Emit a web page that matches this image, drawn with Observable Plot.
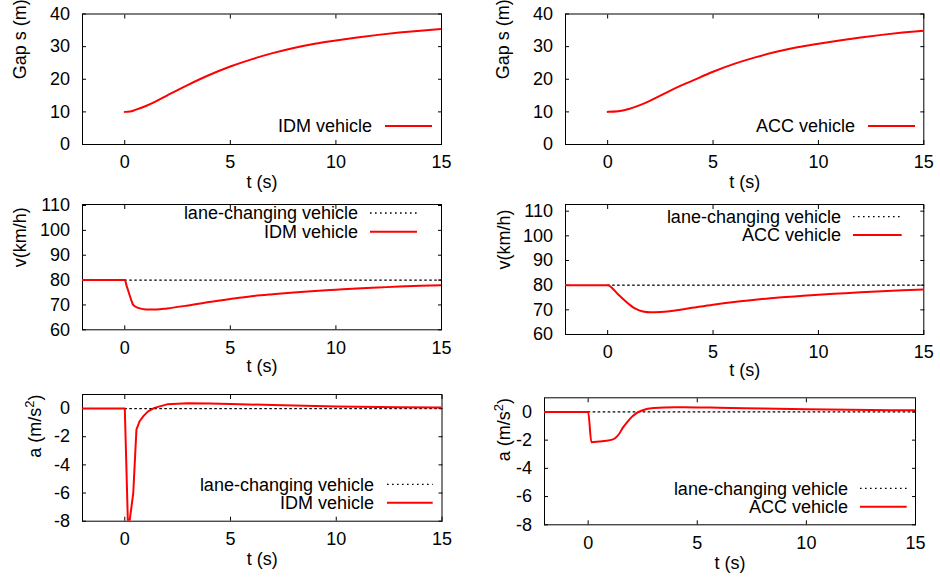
<!DOCTYPE html>
<html>
<head>
<meta charset="utf-8">
<script src="https://cdn.jsdelivr.net/npm/d3@7"></script>
<script src="https://cdn.jsdelivr.net/npm/@observablehq/plot@0.6"></script>
<style>
  html, body { margin: 0; padding: 0; background: #fff; }
  #wrap { position: relative; width: 940px; height: 578px; background: #fff; overflow: hidden;
          font-family: "Liberation Sans", Arial, Helvetica, sans-serif; }
  #wrap svg.panel { position: absolute; }
</style>
</head>
<body>
<div id="wrap"></div>
<script>
// ---------------- data ----------------
const xTicks = [0, 5, 10, 15];
const gapTicks = [0, 10, 20, 30, 40];
const vTicks = [60, 70, 80, 90, 100, 110];
const aTicks = [-8, -6, -4, -2, 0];

const seriesLane = "lane-changing vehicle";
const seriesIDM = "IDM vehicle";
const seriesACC = "ACC vehicle";

// lane-changing vehicle (constant)
const tLane = [0, 15];
const vLane = [80, 80];
const aLane = [0, 0];

// gap s (m)
const tGapIDM = [0, 0.25, 0.5, 1, 1.5, 2, 2.5, 3, 4, 5, 6, 7, 8, 9, 10, 11, 12, 13, 14, 15];
const gapIDM  = [10, 10.1, 10.6, 11.8, 13.3, 15, 16.7, 18.3, 21.3, 23.9, 26.1, 28, 29.6, 30.9, 31.9, 32.8, 33.6, 34.3, 34.9, 35.4];
const tGapACC = [0, 0.5, 1, 1.5, 2, 2.5, 3, 3.5, 4, 5, 6, 7, 8, 9, 10, 11, 12, 13, 14, 15];
const gapACC  = [10, 10.2, 10.9, 12, 13.4, 15, 16.6, 18.1, 19.5, 22.3, 24.7, 26.7, 28.4, 29.8, 30.9, 31.9, 32.8, 33.6, 34.3, 34.9];

// velocity v (km/h)
const tVIDM = [-2, 0, 0.1, 0.2, 0.3, 0.4, 0.6, 1, 1.5, 2, 3, 4, 5, 6, 7, 8, 9, 10, 11, 12, 13, 14, 15];
const vIDM  = [80, 80, 77.4, 74.8, 72.2, 70, 68.9, 68.2, 68.2, 68.6, 69.8, 71.2, 72.4, 73.5, 74.3, 75, 75.6, 76.1, 76.6, 77, 77.4, 77.7, 77.9];
const tVACC = [-2, 0, 0.5, 1, 1.25, 1.5, 1.75, 2, 2.5, 3, 4, 5, 6, 7, 8, 9, 10, 11, 12, 13, 14, 15];
const vACC  = [80, 80, 76.2, 72.4, 70.8, 69.8, 69.2, 69, 69.1, 69.5, 70.8, 72.1, 73.2, 74.1, 74.9, 75.5, 76.1, 76.6, 77.1, 77.5, 77.9, 78.2];

// acceleration a (m/s^2)
const tAIDM = [-2, 0, 0.15, 0.2, 0.4, 0.55, 0.7, 0.9, 1.1, 1.4, 2, 3, 4, 5, 7, 10, 13, 15];
const aIDM  = [0, 0, -8.3, -8.3, -6.0, -1.5, -0.9, -0.5, -0.2, 0.05, 0.3, 0.38, 0.36, 0.32, 0.25, 0.15, 0.1, 0.08];
const tAACC = [-2, 0, 0.15, 0.5, 1, 1.2, 1.4, 1.6, 1.8, 2, 2.2, 2.5, 3, 4, 5, 6, 8, 10, 12, 15];
const aACC  = [0, 0, -2.15, -2.1, -2.0, -1.9, -1.6, -1.1, -0.7, -0.35, -0.1, 0.12, 0.27, 0.33, 0.32, 0.3, 0.24, 0.19, 0.15, 0.11];

const xLabel = "t (s)";
const labelGap = "Gap s (m)";
const labelV = "v(km/h)";
const labelA = "a (m/s²)";

// --------------- helpers ---------------
const zip = (ts, vs) => ts.map((t, i) => ({t, v: vs[i]}));
const FONT = '"Liberation Sans", Arial, Helvetica, sans-serif';
const RED = "#ff0000";
const NS = "http://www.w3.org/2000/svg";

function superscriptFix(svg) {
  svg.querySelectorAll("text").forEach(t => {
    const s = t.textContent;
    if (s.includes("²")) {
      const [pre, post] = s.split("²");
      t.textContent = "";
      const a = document.createElementNS(NS, "tspan"); a.textContent = pre;
      const b = document.createElementNS(NS, "tspan"); b.textContent = "2";
      b.setAttribute("font-size", "13"); b.setAttribute("dy", "-7");
      const c = document.createElementNS(NS, "tspan"); c.textContent = post;
      c.setAttribute("dy", "7");
      t.append(a, b, c);
    }
  });
}

function panel(cfg) {
  const marks = [
    Plot.frame({stroke: "#000", strokeWidth: 1}),
    Plot.axisX(xTicks, {anchor: "bottom", tickSize: -4, tickPadding: 15, tickFormat: d => String(d), label: null, fill: "#000", stroke: "#000"}),
    Plot.axisX(xTicks, {anchor: "top", tickSize: -4, tickFormat: () => "", label: null, stroke: "#000"}),
    Plot.axisY(cfg.yTicks, {anchor: "left", tickSize: -4, tickPadding: 16.5, tickFormat: d => String(d), label: null, fill: "#000", stroke: "#000"}),
    Plot.axisY(cfg.yTicks, {anchor: "right", tickSize: -4, tickFormat: () => "", label: null, stroke: "#000"})
  ];
  if (cfg.lane) {
    marks.push(Plot.line(cfg.lane, {x: "t", y: "v", stroke: "#000", strokeWidth: 1.3, strokeDasharray: "1.6,3.4", clip: true}));
  }
  marks.push(Plot.line(cfg.data, {x: "t", y: "v", stroke: RED, strokeWidth: 2, curve: cfg.curve || "linear", clip: true}));
  marks.push(Plot.text([xLabel], {text: d => d, frameAnchor: "bottom", dy: cfg.xLabelDy, lineAnchor: "middle", fill: "#000", fontSize: 18}));
  marks.push(Plot.text([cfg.yLabel], {text: d => d, frameAnchor: "left", rotate: -90, dx: cfg.yLabelDx, lineAnchor: "middle", fill: "#000", fontSize: 18}));
  const svg = Plot.plot({
    width: cfg.w, height: cfg.h,
    marginLeft: cfg.ml, marginRight: cfg.mr, marginTop: cfg.mt, marginBottom: cfg.mb,
    x: {domain: [-2, 15]},
    y: {domain: cfg.yDomain},
    style: {fontFamily: FONT, fontSize: "18px", color: "#000", background: "transparent", overflow: "visible"},
    marks
  });
  superscriptFix(svg);
  svg.classList.add("panel");
  svg.style.left = cfg.left + "px";
  svg.style.top = cfg.top + "px";
  document.getElementById("wrap").appendChild(svg);
}

function legend(entries, textRight, ys, x1, x2) {
  const svg = document.createElementNS(NS, "svg");
  svg.setAttribute("width", 940);
  svg.setAttribute("height", 578);
  svg.style.position = "absolute";
  svg.style.left = "0px";
  svg.style.top = "0px";
  svg.style.overflow = "visible";
  entries.forEach((e, i) => {
    const tx = document.createElementNS(NS, "text");
    tx.setAttribute("x", textRight);
    tx.setAttribute("y", ys[i]);
    tx.setAttribute("dy", "0.35em");
    tx.setAttribute("text-anchor", "end");
    tx.setAttribute("font-family", FONT);
    tx.setAttribute("font-size", "18");
    tx.setAttribute("fill", "#000");
    tx.textContent = e.label;
    svg.appendChild(tx);
    const ln = document.createElementNS(NS, "line");
    ln.setAttribute("x1", x1); ln.setAttribute("x2", x2);
    ln.setAttribute("y1", ys[i]); ln.setAttribute("y2", ys[i]);
    if (e.dotted) {
      ln.setAttribute("stroke", "#000");
      ln.setAttribute("stroke-width", 1.3);
      ln.setAttribute("stroke-dasharray", "1.6,3.4");
    } else {
      ln.setAttribute("stroke", RED);
      ln.setAttribute("stroke-width", 2);
    }
    svg.appendChild(ln);
  });
  document.getElementById("wrap").appendChild(svg);
}

// --------------- panels ---------------
// top row: gap
panel({left: 0, top: 0, w: 470, h: 195, ml: 82, mr: 29, mt: 13.5, mb: 51,
  yDomain: [0, 40], yTicks: gapTicks, yLabel: labelGap, yLabelDx: -62.5, xLabelDy: 38,
  data: zip(tGapIDM, gapIDM), curve: "monotone-x"});
panel({left: 470, top: 0, w: 470, h: 195, ml: 95, mr: 16.7, mt: 13.5, mb: 51,
  yDomain: [0, 40], yTicks: gapTicks, yLabel: labelGap, yLabelDx: -62.5, xLabelDy: 38,
  data: zip(tGapACC, gapACC), curve: "monotone-x"});

// middle row: velocity
panel({left: 0, top: 195, w: 470, h: 190, ml: 82, mr: 29, mt: 9, mb: 55.7,
  yDomain: [60, 110.4], yTicks: vTicks, yLabel: labelV, yLabelDx: -62.5, xLabelDy: 36,
  lane: zip(tLane, vLane), data: zip(tVIDM, vIDM), curve: "monotone-x"});
panel({left: 470, top: 195, w: 470, h: 190, ml: 95, mr: 16.7, mt: 9, mb: 51,
  yDomain: [60, 112.7], yTicks: vTicks, yLabel: labelV, yLabelDx: -61, xLabelDy: 36,
  lane: zip(tLane, vLane), data: zip(tVACC, vACC), curve: "monotone-x"});

// bottom row: acceleration
panel({left: 0, top: 385, w: 470, h: 193, ml: 82, mr: 28.5, mt: 9, mb: 57.3,
  yDomain: [-8, 1], yTicks: aTicks, yLabel: labelA, yLabelDx: -47.5, xLabelDy: 38,
  lane: zip(tLane, aLane), data: zip(tAIDM, aIDM), curve: "linear"});
panel({left: 470, top: 385, w: 470, h: 193, ml: 74, mr: 25, mt: 12.3, mb: 53.7,
  yDomain: [-8, 1], yTicks: aTicks, yLabel: labelA, yLabelDx: -40, xLabelDy: 38,
  lane: zip(tLane, aLane), data: zip(tAACC, aACC), curve: "monotone-x"});

// --------------- legends ---------------
legend([{label: seriesIDM}], 372, [126], 385, 432);
legend([{label: seriesACC}], 855, [126], 868, 915);
legend([{label: seriesLane, dotted: true}, {label: seriesIDM}], 358, [213, 231.7], 370, 417);
legend([{label: seriesLane, dotted: true}, {label: seriesACC}], 841, [216.7, 235], 853, 901.7);
legend([{label: seriesLane, dotted: true}, {label: seriesIDM}], 374, [484.3, 502.7], 387, 432.7);
legend([{label: seriesLane, dotted: true}, {label: seriesACC}], 848, [488.3, 506.7], 860, 906.7);
</script>
</body>
</html>
